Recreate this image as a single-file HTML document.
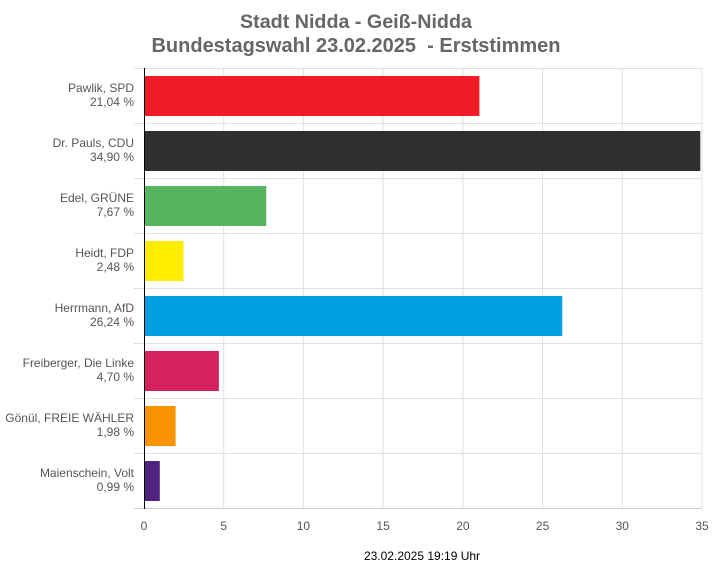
<!DOCTYPE html><html><head><style>body{margin:0;background:#fff}svg{display:block;font-family:"Liberation Sans",Arial,sans-serif}</style></head><body>
<svg width="712" height="568" xmlns="http://www.w3.org/2000/svg">
<text x="356" y="28" text-anchor="middle" font-size="19.7" font-weight="bold" fill="#666">Stadt Nidda - Geiß-Nidda</text>
<text x="356" y="52" text-anchor="middle" font-size="20" font-weight="bold" fill="#666">Bundestagswahl 23.02.2025&#160; - Erststimmen</text>
<g stroke="#e0e0e0" stroke-width="1">
<line x1="223.7" y1="68" x2="223.7" y2="508"/><line x1="303.4" y1="68" x2="303.4" y2="508"/><line x1="383.1" y1="68" x2="383.1" y2="508"/><line x1="462.9" y1="68" x2="462.9" y2="508"/><line x1="542.6" y1="68" x2="542.6" y2="508"/><line x1="622.3" y1="68" x2="622.3" y2="508"/><line x1="702" y1="68" x2="702" y2="508"/>
<line x1="134" y1="68.5" x2="702" y2="68.5"/><line x1="134" y1="123.5" x2="702" y2="123.5"/><line x1="134" y1="178.5" x2="702" y2="178.5"/><line x1="134" y1="233.5" x2="702" y2="233.5"/><line x1="134" y1="288.5" x2="702" y2="288.5"/><line x1="134" y1="343.5" x2="702" y2="343.5"/><line x1="134" y1="398.5" x2="702" y2="398.5"/><line x1="134" y1="453.5" x2="702" y2="453.5"/>
</g>
<line x1="134" y1="508.5" x2="702" y2="508.5" stroke="#ccc"/>
<rect x="144" y="76" width="335.4" height="40" fill="#ee1c25"/>
<rect x="144" y="131" width="556.3" height="40" fill="#313031"/>
<rect x="144" y="186" width="122.3" height="40" fill="#57b45f"/>
<rect x="144" y="241" width="39.5" height="40" fill="#ffed00"/>
<rect x="144" y="296" width="418.3" height="40" fill="#009ee0"/>
<rect x="144" y="351" width="74.9" height="40" fill="#d4225e"/>
<rect x="144" y="406" width="31.6" height="40" fill="#f89400"/>
<rect x="144" y="461" width="15.8" height="40" fill="#50237f"/>
<line x1="144.5" y1="68" x2="144.5" y2="509" stroke="#000"/>
<g font-size="12" fill="#555" text-anchor="end">
<text x="134" y="92">Pawlik, SPD</text><text x="134" y="106">21,04 %</text>
<text x="134" y="147">Dr. Pauls, CDU</text><text x="134" y="161">34,90 %</text>
<text x="134" y="202">Edel, GRÜNE</text><text x="134" y="216">7,67 %</text>
<text x="134" y="257">Heidt, FDP</text><text x="134" y="271">2,48 %</text>
<text x="134" y="312">Herrmann, AfD</text><text x="134" y="326">26,24 %</text>
<text x="134" y="367">Freiberger, Die Linke</text><text x="134" y="381">4,70 %</text>
<text x="134" y="422">Gönül, FREIE WÄHLER</text><text x="134" y="436">1,98 %</text>
<text x="134" y="477">Maienschein, Volt</text><text x="134" y="491">0,99 %</text>
</g>
<g font-size="12" fill="#555" text-anchor="middle">
<text x="144" y="530">0</text><text x="223.7" y="530">5</text><text x="303.4" y="530">10</text><text x="383.1" y="530">15</text><text x="462.9" y="530">20</text><text x="542.6" y="530">25</text><text x="622.3" y="530">30</text><text x="702" y="530">35</text>
</g>
<text x="422" y="560" text-anchor="middle" font-size="12" fill="#000">23.02.2025 19:19 Uhr</text>
</svg></body></html>
